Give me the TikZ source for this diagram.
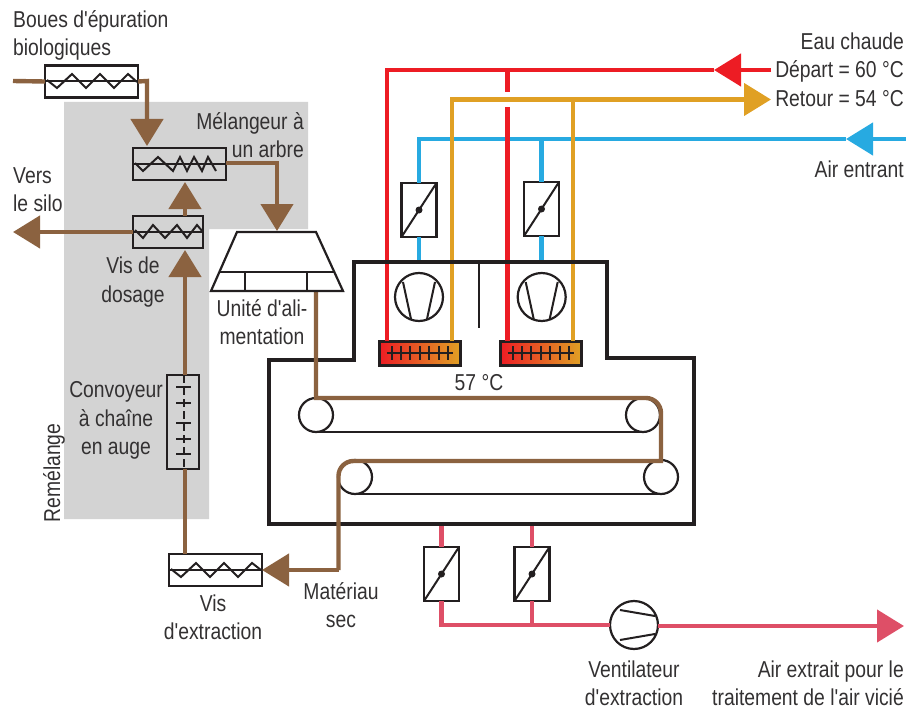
\documentclass[tikz,border=0pt]{standalone}
\usepackage{fontspec}
\setmainfont[FakeStretch=0.84,Ligatures=TeXOff]{Liberation Sans}
\usetikzlibrary{arrows.meta,positioning}
\definecolor{sludge}{HTML}{8B6240}
\definecolor{hotred}{HTML}{ED1C24}
\definecolor{retour}{HTML}{E0A024}
\definecolor{airblue}{HTML}{27AAE1}
\definecolor{exhaust}{HTML}{DE4F67}
\definecolor{remix}{HTML}{D3D3D3}
\definecolor{ink}{HTML}{231F20}
\definecolor{txt}{HTML}{333132}
\tikzset{screw/.style={draw=ink,line width=2.4pt,rectangle,minimum height=32pt,inner sep=0pt,outer sep=0pt},
	damper/.style={draw=ink,line width=2.2pt,fill=white,rectangle,minimum width=35pt,minimum height=54pt,inner sep=0pt,outer sep=0pt},
	fan/.style={draw=ink,line width=2.2pt,fill=white,circle,minimum size=48pt,inner sep=0pt,outer sep=0pt},
	roller/.style={draw=ink,line width=2.2pt,circle,minimum size=34pt,inner sep=0pt,outer sep=0pt},
	coil/.style={draw=ink,line width=3pt,rectangle,left color=hotred,right color=retour,minimum width=81pt,minimum height=24pt,inner sep=0pt,outer sep=0pt},
	thin/.style={draw=ink,line width=2pt},
	pipe/.style={draw,line width=4.4pt},
	head/.style={-{Triangle[length=27pt,width=32pt]}},
	label/.style={text=txt,align=center,inner sep=0pt,font=\fontsize{23}{28.3}\selectfont}}
\begin{document}
\begin{tikzpicture}[x=1pt,y=-1pt]
		\useasboundingbox(0,0)rectangle(906,709);
		\fill[remix](64,102)--(308,102)--(308,229)--(209,229)--(209,519)--(64,519)--cycle;
		
		\node[label,align=left,anchor=west](t1)at(13,35.5){Boues d'épuration\\biologiques};
		\node[label,align=right,anchor=east](t2)at(304,135){Mélangeur à\\un arbre};
		\node[label,align=left,anchor=west](t3)at(13,189.5){Vers\\le silo};
		\node[label](t4)at(133,282){Vis de\\dosage};
		\node[label](t5)at(262,322){Unité d'ali-\\mentation};
		\node[label](t6)at(116,420.5){Convoyeur\\à chaîne\\en auge};
		\node[label,rotate=90](t7)at(54,473){Remélange};
		\node[label](t8)at(213,617){Vis\\d'extraction};
		\node[label](t9)at(341,605){Matériau\\sec};
		\node[label](t10)at(634,683){Ventilateur\\d'extraction};
		\node[label,align=right,anchor=east](t11)at(904,683){Air extrait pour le\\traitement de l'air vicié};
		\node[label,align=right,anchor=east](t12)at(904,69.5){Eau chaude\\Départ = 60 °C\\Retour = 54 °C};
		\node[label,anchor=east](t13)at(904,169){Air entrant};
		\node[label](t14)at(479,383){57 °C};
		
		\node[screw,minimum width=93pt](s1)at(91.5,81.5){};
		\node[screw,minimum width=93pt](s2)at(179.5,164){};
		\node[screw,minimum width=70pt](s3)at(168,232){};
		\node[screw,minimum width=93pt](s4)at(215.5,570){};
		\node[screw,minimum width=32pt,minimum height=94pt](s5)at(183,422){};
		
		\coordinate(in1)at(13,81);
		\coordinate(bend1)at(147,81);
		\coordinate(tip1)at(147,146);
		\coordinate(bend2)at(277,163);
		\coordinate(tip2)at(277,231);
		\coordinate(tip3)at(13,232);
		\coordinate(feed)at(316,291);
		\coordinate(cor1)at(661,398);
		\coordinate(cor2)at(661,461);
		\coordinate(cor3)at(338.5,461);
		\coordinate(cor4)at(338.5,570);
		
		\draw[pipe,sludge](in1)--(s1.west);
		\draw[pipe,sludge,head](s1.east)--(bend1)--(tip1);
		\draw[pipe,sludge,head](s2.east|-bend2)--(bend2)--(tip2);
		\draw[pipe,sludge,head](s3.west)--(tip3);
		\draw[pipe,sludge,head](185,216)--(185,182);
		\draw[pipe,sludge,head](185,375)--(185,250);
		\draw[pipe,sludge](185,554)--(185,469);
		
		\draw[thin](s1.west)--(s1.east);
		\draw[thin,line join=miter](47,80)--(57,88)--(72,74)--(86,88)--(100,74)--(114,88)--(128,74)--(137,82);
		\draw[thin](s2.west)--(s2.east);
		\draw[thin,line join=miter](135,163)--(143,171)--(158,157)--(173,171)--(180,157)--(187,171)--(194,157)--(202,171)--(208,157)--(216,171);
		\draw[thin](s3.west)--(s3.east);
		\draw[thin,line join=miter](135,230)--(143,238)--(153,225)--(165,238)--(177,225)--(187,238)--(197,225)--(203,232);
		\draw[thin](s4.west)--(s4.east);
		\draw[thin,line join=miter](171,569)--(181,577)--(196,563)--(210,577)--(224,563)--(238,577)--(252,563)--(261,570);
		\draw[thin,dash pattern=on 8pt off 4pt](183.5,375)--(183.5,469);
		\foreach \y in{387,403,423,439,454}
		\draw[thin](176,\y)--(191,\y);
		
		\node[roller](r1)at(316,415){};
		\node[roller](r2)at(643,415){};
		\node[roller](r3)at(355,477){};
		\node[roller](r4)at(661,477){};
		\draw[thin](r1.south)--(r2.south);
		\draw[thin](r3.south)--(r4.south);
		
		\node[damper](d1)at(419,210){};
		\node[damper](d2)at(541.5,209){};
		\node[damper](d3)at(441.5,574){};
		\node[damper](d4)at(532,574){};
		\node[fan](f1)at(419,297){};
		\node[fan](f2)at(541.7,297){};
		\node[fan](f3)at(634,625){};
		\node[coil](c1)at(419.5,353){};
		\node[coil](c2)at(540.5,353){};
		
		\coordinate(air)at(906,139);
		\coordinate(airtip)at(846,139);
		\coordinate(hot)at(771,70);
		\coordinate(hottip)at(714,70);
		\coordinate(ret)at(452,99.5);
		\coordinate(rettip)at(771,99.5);
		\coordinate(out)at(904,626);
		\coordinate(low)at(441.5,625);
		\coordinate(roof)at(0,262);
		\coordinate(floor)at(0,524);
		
		\draw[pipe,airblue,head](air)--(airtip);
		\draw[pipe,airblue](airtip)--(d1.north|-airtip)--(d1.north);
		\draw[pipe,airblue](d2.north|-airtip)--(d2.north);
		\draw[pipe,airblue](d1.south)--(d1.south|-roof);
		\draw[pipe,airblue](d2.south)--(d2.south|-roof);
		\draw[pipe,hotred,head](hot)--(hottip);
		\draw[pipe,hotred](hottip)--(387,70)--(c1.north-|387,0);
		\draw[pipe,hotred](507.5,70)--(507.5,92);
		\draw[pipe,hotred](507.5,107.5)--(c2.north-|507.5,0);
		\draw[pipe,retour,head](c1.north-|ret)--(ret)--(rettip);
		\draw[pipe,retour](c2.north-|573,0)--(573,99.5);
		\draw[pipe,exhaust](d3.north)--(d3.north|-floor);
		\draw[pipe,exhaust](d4.north)--(d4.north|-floor);
		\draw[pipe,exhaust](d3.south)--(low)--(f3.west);
		\draw[pipe,exhaust](d4.south)--(d4.south|-low);
		\draw[pipe,exhaust,head](f3.east|-out)--(out);
		
		\draw[line width=4.5pt,ink,line join=miter](354,360)--(354,262)--(607,262)--(607,358)--(694,358)--(694,524)--(269,524)--(269,360)--cycle;
		\draw[thin](479,262)--(479,328);
		
		\draw[pipe,sludge](feed)--(feed|-cor1)[rounded corners=15pt]--(cor1)[sharp corners]--(cor2)[rounded corners=15pt]--(cor3)[sharp corners]--(cor4);
		\draw[pipe,sludge,head](cor4)--(s4.east);
		
		\foreach \x in{d1,d2,d3,d4}
		{\draw[thin](\x.south west)--(\x.north east);
			\fill[ink](\x.center)circle(3.5pt);}
		\foreach \x in{f1,f2}
		{\draw[thin]([shift={(-16,-15)}]\x.center)--([shift={(-8,22)}]\x.center);
			\draw[thin]([shift={(16,-15)}]\x.center)--([shift={(8,22)}]\x.center);}
		\draw[thin]([shift={(-14,-15)}]f3.center)--([shift={(21,-9)}]f3.center);
		\draw[thin]([shift={(-14,15)}]f3.center)--([shift={(21,9)}]f3.center);
		\foreach \x in{c1,c2}
		{\draw[thin,line width=2.4pt]([xshift=-33pt]\x.center)--([xshift=33pt]\x.center);
			\foreach \y in{-28,-19,-9.5,0,9.5,19,28}
			\draw[thin]([shift={(\y,-7)}]\x.center)--([shift={(\y,7)}]\x.center);}
		
		\draw[line width=2.2pt,ink,fill=white,line join=miter](237,232)--(316,232)--(343,291)--(211,291)--cycle;
		\draw[line width=2.2pt,ink](219.5,272)--(334.5,272);
		\foreach \x in{245,307}
		\draw[line width=2.2pt,ink](\x,272)--(\x,291);
	\end{tikzpicture}
\end{document}
